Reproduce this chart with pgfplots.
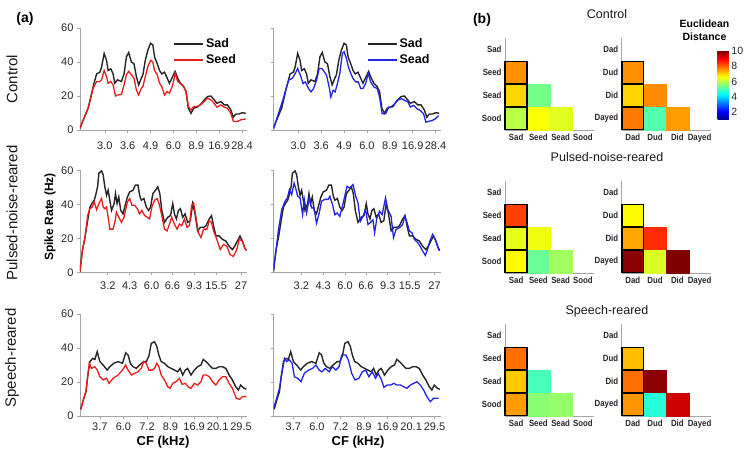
\documentclass[border=0pt]{standalone}
\usepackage{fontspec}
\setmainfont{Liberation Sans}
\usepackage{graphicx}
\usepackage{pgfplots}
\usepackage{pgfplotstable}
\pgfplotsset{compat=1.18}
\definecolor{myred}{RGB}{235,30,30}
\definecolor{myblue}{RGB}{35,35,230}
\definecolor{axgray}{RGB}{165,165,165}
\definecolor{sadgray}{RGB}{38,38,38}
\newcommand{\hl}[1]{\scalebox{0.87}[1]{#1}}

% ---------- Control ----------
\pgfplotstableread{
x y
0 1
3.3 6
8.3 13
13.3 25.6
16.7 33
20 34
21.7 37
24.3 45
26.7 41
28.3 35
31 36
33.3 33
35 27.5
37.7 29.5
41.7 28.5
44.3 33
46.7 43
49 45.6
51.7 40
54.3 39
56.7 31.5
59 26.5
61.7 30.5
63.3 32.5
65.7 41
68.3 47
71 51
73.3 50
75 43
77.7 39
80 35
82.3 33
85 34
87.7 30.5
90 27.5
93.3 31.5
95.7 34.5
98.3 30.5
101 27.5
104.3 25.5
106.7 22.6
109 12.8
111.7 9.8
114.3 12.8
117.7 13.4
121 14.8
125 17.7
128.3 19.7
131.7 20
135 17.7
137.7 15.7
141.7 16.7
145 14.8
148.3 14.8
151.7 11.8
154.3 7.5
156.7 9.4
160 9.4
163.3 10.2
166.7 9.8
}\ctrlSad
\pgfplotstableread{
x y
0 1
3.3 6
8.3 13
13.3 24.6
16.7 28.5
20 28.5
21.7 29.5
24.3 35
26.7 31.5
28.3 27.5
31 28.5
33.3 26.5
35.7 20
38.3 20.6
41.7 21
44.3 26.5
46.7 32.5
49 34.5
51.7 32.5
54.3 30.5
56.7 23.6
59 20.6
61.7 24.6
63.3 25.6
65.7 31.5
68.3 37.4
71 41
73.3 40
75 35
77.7 32.5
80 27.5
82.3 25.5
85 20.6
87.7 22.6
90 21.6
93.3 26.5
95.7 33.4
98.3 28.5
101 27.5
104.3 25.5
106.7 22.6
109 13.8
111.7 11.8
114.3 13.8
117.7 13.8
121 14.8
125 16.7
128.3 18.7
131.7 17.7
135 15.7
137.7 13.4
141.7 14.8
145 13.4
148.3 12.8
151.7 9.8
154.3 5
158.3 5
161.7 6
166.7 6.5
}\ctrlSeed
\pgfplotstableread{
x y
0 0.6
4.3 8.5
9.3 17.4
12.7 24.4
15.3 29.3
18.7 30.3
21 32.3
24.3 36.2
27 32.3
29.7 27.3
32 28.3
35.3 24.4
37.7 22.4
40.3 24.4
43.3 29.3
46 36.2
48.7 36.2
51 34.3
53.3 32.3
56 25.3
57.7 19.4
60 23.4
62 22.4
64.3 27.3
66.7 33.3
69.3 45.1
71 46.1
73.3 42.2
75.3 37.2
77.7 33.3
80 30.3
82.7 28.3
85.3 28.3
87.7 24.4
90 24.4
92.7 27.3
95.3 33.3
97.7 28.3
101 25.3
104.3 24.4
106.7 19.4
109.3 9.5
112.7 9.5
116 13.5
120 13.5
124.3 17.4
128.7 18.4
132 17.4
135.3 16.4
137.7 13.5
141 14.5
144.3 12.5
147.7 11.5
151 9.5
153.3 4.6
156 5.1
159.3 5.5
162.7 6.5
166 8.5
}\ctrlSead

% ---------- Pulsed-noise-reared ----------
\pgfplotstableread{
x y
0 0.6
2.3 12.6
5 20.5
7.7 30.5
10 38.5
12.3 40.9
14.3 42.5
15.7 45.4
17.7 50.4
19 58.4
21.7 59.8
23.3 57.4
25 50.4
26.7 45.4
28.3 48.4
30 42.5
31.7 36.5
34.3 40.5
35.7 46.4
37.3 40.5
39 44.4
41 36.5
43.3 34.5
45 38.5
47.7 44.4
50 47.4
53.3 48.4
55.7 51.4
58.3 51.4
60 45.4
61.7 42.5
64.3 43.5
66.7 38.5
69 36.5
71 38.5
73.3 46.4
76 48.4
78.3 50.4
80.3 46.4
82.3 36.5
85 29.5
88.3 32.5
91 33.5
93.3 40.5
95 34.5
97 31.5
99 36.5
101 37.5
103.3 32.5
105.7 34.5
108.3 29.5
111 30.5
113.3 40.5
115.7 34.5
118.3 24.5
121 26.5
124.3 26.5
126.7 27.5
130 31.5
132.3 33.5
134.3 27.5
136.7 21.5
140 21.5
143.3 19.5
146.7 18.5
150 15.5
153.3 13.5
155.7 15.5
158.3 18.5
161 21.5
163.3 18.5
165.7 14.5
167.3 13
}\pnSad
\pgfplotstableread{
x y
0 0.6
2.3 12.6
5 20.5
7.7 33.5
10 37.5
12.3 38.5
14.3 41.5
16.7 36.9
19 40.5
21.7 43.5
23.3 38.5
25 37.5
26.7 38.5
28.3 32.5
30 25.5
33.3 25.5
35 29.5
36.7 35.5
39 32.5
41.7 29.5
44.3 32.5
47.7 41.5
50 43.5
52.3 39.5
55 39.5
57.7 37.5
60 34.5
62.3 36.5
65 33.5
67.7 32.5
70 31.5
72.3 38.5
75 42.5
77.7 43.5
80 39.5
82.3 33.5
85 25.5
87.7 24.5
90 28.5
92.3 32.5
95 28.5
97.7 25.5
100 28.5
102.3 27.5
105 31.5
107.7 26.5
110 27.5
112.3 39.5
114.3 40.9
116.7 32.5
119 23.5
121.7 20.5
124.3 25.5
127.7 25.5
130 30.5
132.3 29.5
134.3 24.5
137.7 19.5
141 13.5
144.3 16.5
147.7 15.5
151 10.5
154.3 9.5
157.7 13.5
160.3 19.5
163.3 18.5
165.7 14.5
167.3 13
}\pnSeed
\pgfplotstableread{
x y
0 1
2.7 13.6
5 25.3
8.3 37
11.7 42
14 44
16 48.8
18.3 45.8
20.7 52.6
22.7 48.8
24.3 44.9
26.7 43.9
29.3 34
31 43
33.3 35
36 44
38.3 38
40.7 38
43.3 29
46 35
48.3 42
51.7 43
55 43
56.7 44.9
59.3 40
61.7 34
64 35
66.7 33
69.3 39
71.7 44.9
74 50.7
76.7 49.7
80 51.7
82.7 44.9
85 41
87.3 30
90 33
92.7 37
95 28.3
97.3 29.3
100 31
101.7 23.4
104 32
106.7 36
109.3 34
112.7 44
115 37
118.3 33
120.7 20.5
123.3 25.3
126.7 26.3
130 28.3
132 33
134 30
136.7 24.4
139.3 23.4
141.7 19.5
145 17.6
147.3 15.6
150 12.7
152.7 10.1
155 13.6
157.3 18.5
160 22.4
162.7 19.5
165 15.6
166.7 12.7
}\pnSead

% ---------- Speech-reared ----------
\pgfplotstableread{
x y
0.7 3.9
3.3 9.4
6 14.3
7.7 23.1
10 32
12.7 33.9
15 33.3
17.3 37.8
20 32
23.3 30
27.3 27
30 29
34 31
38.3 32
42.7 31
46 37.2
48.3 35.9
50.7 31
53.3 29
56.7 28
60 30
64 32
66.7 32
69.3 35.3
71.7 42.7
75 43.7
77.3 40.8
79.3 35.9
81.7 32
85 31
88.3 29
91.7 28
95 27
98.3 26
100.7 28
103.3 24.1
106 27
108.3 28
111.7 24.1
115 27
118.3 29
121.7 30
124 33.3
126.7 32
130 30
133.3 28
136.7 28
140 29
143.3 29
146.7 28
150 24.1
153.3 21.2
156.7 17.2
159.3 15.3
161.7 18.2
165 16.3
167.3 15.7
}\spSad
\pgfplotstableread{
x y
0.7 3.9
3.3 9.4
6 14.3
7.7 23.1
9.3 31
11.7 28
15 29
17.3 27
20 23.1
23.3 21.2
26.7 22.2
29.3 19.2
33.3 22.2
38.3 24.1
42.7 27
46 30
48.3 27
51.7 24.1
55 25.1
58.3 26
61.7 28
64 32
66.7 31
69.3 27
72.7 27
75 28
77.3 31
79.3 29
81.7 24.1
85 21.2
88.3 17.2
90.7 16.3
93.3 19.2
96.7 20.2
100 22.2
102.7 18.6
106 19.2
109.3 16.9
111.7 16.3
115 19.2
118.3 18.2
121.7 20.2
124 24.1
127.3 24.1
130 23.1
133.3 20.2
136.7 18.2
140 21.2
143.3 23.1
146.7 23.1
150 19.2
153.3 16.3
157.3 10.4
160.7 9.8
163.3 11.4
167.3 11.4
}\spSeed
\pgfplotstableread{
x y
0 4.5
2.7 9.4
6 16.3
8.7 26
11 33.9
13.3 32
16 33
18.7 31
21 23.1
24.3 22.2
27.7 20.2
31 25.1
35.3 27
39.3 28
42.7 30
46 27
48.7 26
52 28
56 26
59.3 29
62.7 27
66 29
68.7 35.9
72.7 35.9
75.3 33
78.7 25
82 21.2
86 22.2
89.3 26
92.7 27
96 23.1
99.3 26
102.7 22.2
105.3 25
108.7 21.2
111 16.9
114.3 18.2
117.7 18.2
121 19.2
124.3 18.2
127.7 18.2
131 17.2
134.3 16.3
137.7 18.2
141 19.2
144.3 20.2
147.7 18.2
151 15.3
154.3 11.4
157.7 8.4
161 10.4
166 10.4
}\spSead

% ---------- Heatmap cells: x y c ----------
\pgfplotstableread{
x y c
2 2 5.4
2 1 6.6
3 1 6.35
}\hmCtrlSo
\pgfplotstableread{
x y c
1 3 7.6
1 2 7.0
1 1 6.0
}\hmCtrlSf
\pgfplotstableread{
x y c
2 2 7.65
2 1 5.1
3 1 7.5
}\hmCtrlDo
\pgfplotstableread{
x y c
1 3 7.6
1 2 7.0
1 1 7.8
}\hmCtrlDf
\pgfplotstableread{
x y c
2 2 6.5
2 1 5.3
3 1 5.8
}\hmPnSo
\pgfplotstableread{
x y c
1 3 8.3
1 2 6.4
1 1 6.65
}\hmPnSf
\pgfplotstableread{
x y c
2 2 8.5
2 1 6.3
3 1 10
}\hmPnDo
\pgfplotstableread{
x y c
1 3 6.65
1 2 7.4
1 1 9.9
}\hmPnDf
\pgfplotstableread{
x y c
2 2 5.0
2 1 5.6
3 1 5.7
}\hmSpSo
\pgfplotstableread{
x y c
1 3 7.9
1 2 7.1
1 1 7.5
}\hmSpSf
\pgfplotstableread{
x y c
2 2 9.9
2 1 4.7
3 1 9.3
}\hmSpDo
\pgfplotstableread{
x y c
1 3 7.2
1 2 7.9
1 1 7.55
}\hmSpDf

\pgfplotsset{
  /pgf/number format/assume math mode=true,
  lp/.style={scale only axis, width=167pt, height=102pt, anchor=south west,
    xmin=0, xmax=168, ymin=0, ymax=60,
    axis x line=bottom, axis y line=left,
    x axis line style={-}, y axis line style={-},
    axis line style={axgray, line width=0.7pt},
    tick style={axgray, line width=0.7pt},
    major tick length=3pt, tick align=outside,
    ytick={0,20,40,60},
    ticklabel style={font=\fontsize{11}{13}\selectfont, text=black!85},
    legend cell align=left,
    legend style={draw=none, fill=none, at={(0.54,0.935)}, anchor=north west,
      font=\fontsize{12.5}{14}\selectfont\bfseries, row sep=1pt,
      nodes={inner sep=2pt}},
  },
  sadline/.style={sadgray, line width=1.4pt,
    legend image code/.code={\draw[sadgray, line width=1.7pt] (0pt,0pt) -- (29pt,0pt);}},
  seedline/.style={myred, line width=1.3pt,
    legend image code/.code={\draw[myred, line width=1.7pt] (0pt,0pt) -- (29pt,0pt);}},
  seadline/.style={myblue, line width=1.3pt,
    legend image code/.code={\draw[myblue, line width=1.7pt] (0pt,0pt) -- (29pt,0pt);}},
  rowone/.style={xtick={25,48,71,94,117,140,163},
    xticklabels={3.0,3.6,4.9,6.0,8.9,16.9,28.4},
    xticklabel style={yshift=-5pt}},
  rowtwo/.style={xtick={28,50,72,93,115,137,162},
    xticklabels={3.2,4.3,6.0,6.6,9.3,15.5,27},
    xticklabel style={yshift=-2.5pt}},
  rowthree/.style={xtick={20,43.7,67.4,91,114.8,138.5,162},
    xticklabels={3.7,6.0,7.2,8.9,16.9,20.1,29.5},
    xticklabel style={yshift=-0.5pt}},
  noylab/.style={yticklabels={,,,}},
  hmbase/.style={scale only axis, width=89pt, height=92pt, anchor=south west,
    xmin=0.5, xmax=4.5, ymin=0.5, ymax=4.5,
    axis x line=bottom, axis y line=left,
    x axis line style={-}, y axis line style={-},
    axis line style={axgray, line width=0.7pt},
    xtick={1,2,3,4}, ytick={1,2,3,4}, major tick length=0pt,
    ticklabel style={font=\fontsize{9}{11}\selectfont\bfseries, text=black!85},
    colormap/jet, point meta min=1, point meta max=10, clip=false},
  hmS/.style={hmbase, xticklabels={\hl{Sad},\hl{Seed},\hl{Sead},\hl{Sood}},
    yticklabels={\hl{Sood},\hl{Sead},\hl{Seed},\hl{Sad}}},
  hmD/.style={hmbase, xticklabels={\hl{Dad},\hl{Dud},\hl{Did},\hl{Dayed}},
    yticklabels={\hl{Dayed},\hl{Did},\hl{Dud},\hl{Dad}}},
  hmcell/.style={scatter, only marks, mark=square*, mark size=11.5pt, point meta=\thisrow{c},
    scatter/use mapped color={draw=mapped color, fill=mapped color}},
  hmfirst/.style={scatter, only marks, mark=square*, mark size=10.9pt, point meta=\thisrow{c},
    scatter/use mapped color={draw=black, fill=mapped color}, mark options={line width=1.5pt}},
}

\begin{document}
\begin{tikzpicture}[x=1pt,y=1pt]
\useasboundingbox (0,0) rectangle (750,453);

% ===== Row 1: Control =====
\begin{axis}[lp, rowone, at={(80pt,323pt)}]
\addplot[sadline] table {\ctrlSad};
\addlegendentry{Sad}
\addplot[seedline] table {\ctrlSeed};
\addlegendentry{Seed}
\end{axis}
\begin{axis}[lp, rowone, noylab, at={(273.5pt,323pt)}]
\addplot[sadline] table {\ctrlSad};
\addlegendentry{Sad}
\addplot[seadline] table {\ctrlSead};
\addlegendentry{Sead}
\end{axis}

% ===== Row 2: Pulsed =====
\begin{axis}[lp, rowtwo, at={(80pt,180.5pt)}]
\addplot[sadline] table {\pnSad};
\addplot[seedline] table {\pnSeed};
\end{axis}
\begin{axis}[lp, rowtwo, noylab, at={(273.5pt,180.5pt)}]
\addplot[sadline] table {\pnSad};
\addplot[seadline] table {\pnSead};
\end{axis}

% ===== Row 3: Speech =====
\begin{axis}[lp, rowthree, at={(80pt,37pt)}]
\addplot[sadline] table {\spSad};
\addplot[seedline] table {\spSeed};
\end{axis}
\begin{axis}[lp, rowthree, noylab, at={(273.5pt,37pt)}]
\addplot[sadline] table {\spSad};
\addplot[seadline] table {\spSead};
\end{axis}

% ===== Heatmaps =====
\begin{axis}[hmS, at={(505pt,323pt)}]
\addplot[hmcell] table {\hmCtrlSo};
\addplot[hmfirst] table {\hmCtrlSf};
\end{axis}
\begin{axis}[hmD, at={(621.7pt,323pt)}]
\addplot[hmcell] table {\hmCtrlDo};
\addplot[hmfirst] table {\hmCtrlDf};
\end{axis}
\begin{axis}[hmS, at={(505pt,180pt)}]
\addplot[hmcell] table {\hmPnSo};
\addplot[hmfirst] table {\hmPnSf};
\end{axis}
\begin{axis}[hmD, at={(621.7pt,180pt)}]
\addplot[hmcell] table {\hmPnDo};
\addplot[hmfirst] table {\hmPnDf};
\end{axis}
\begin{axis}[hmS, at={(505pt,37pt)}]
\addplot[hmcell] table {\hmSpSo};
\addplot[hmfirst] table {\hmSpSf};
\end{axis}
\begin{axis}[hmD, at={(621.7pt,37pt)}]
\addplot[hmcell] table {\hmSpDo};
\addplot[hmfirst] table {\hmSpDf};
\end{axis}

% ===== Colorbar =====
\begin{axis}[at={(717.5pt,333pt)}, anchor=south west, scale only axis,
  width=11.4pt, height=69.3pt, hide axis, colormap/jet,
  point meta min=1, point meta max=10,
  colorbar, colorbar shift/.style={},
  colorbar style={at={(parent axis.south west)}, anchor=south west,
    scale only axis, width=11.4pt, height=69.3pt, ytick={2,4,6,8,10},
    major tick length=0pt, axis line style={draw=none},
    yticklabel style={font=\fontsize{10.5}{12}\selectfont, text=black!85, xshift=-1pt}}]
\addplot[draw=none, forget plot] coordinates {(0,1) (1,10)};
\end{axis}

% ===== Text =====
\node[font=\fontsize{14}{16}\selectfont\bfseries] at (25,434) {(a)};
\node[font=\fontsize{14}{16}\selectfont\bfseries] at (482,433) {(b)};
\node[rotate=90, font=\fontsize{15}{17}\selectfont, text=black!90] at (12,374) {Control};
\node[rotate=90, font=\fontsize{15}{17}\selectfont, text=black!90] at (12,240) {Pulsed-noise-reared};
\node[rotate=90, font=\fontsize{15}{17}\selectfont, text=black!90] at (12,95) {Speech-reared};
\node[rotate=90, font=\fontsize{12}{14}\selectfont\bfseries] at (50,236) {Spike Rate (Hz)};
\node[font=\fontsize{13}{15}\selectfont\bfseries] at (163,11) {CF (kHz)};
\node[font=\fontsize{13}{15}\selectfont\bfseries] at (358,11) {CF (kHz)};
\node[font=\fontsize{12.5}{14}\selectfont, text=black!90] at (607,439) {Control};
\node[font=\fontsize{12.5}{14}\selectfont, text=black!90] at (607,296) {Pulsed-noise-reared};
\node[font=\fontsize{12.5}{14}\selectfont, text=black!90] at (607,142) {Speech-reared};
\node[font=\fontsize{10.5}{12.5}\selectfont\bfseries, align=center] at (704.5,423) {Euclidean\\Distance};
\end{tikzpicture}
\end{document}
